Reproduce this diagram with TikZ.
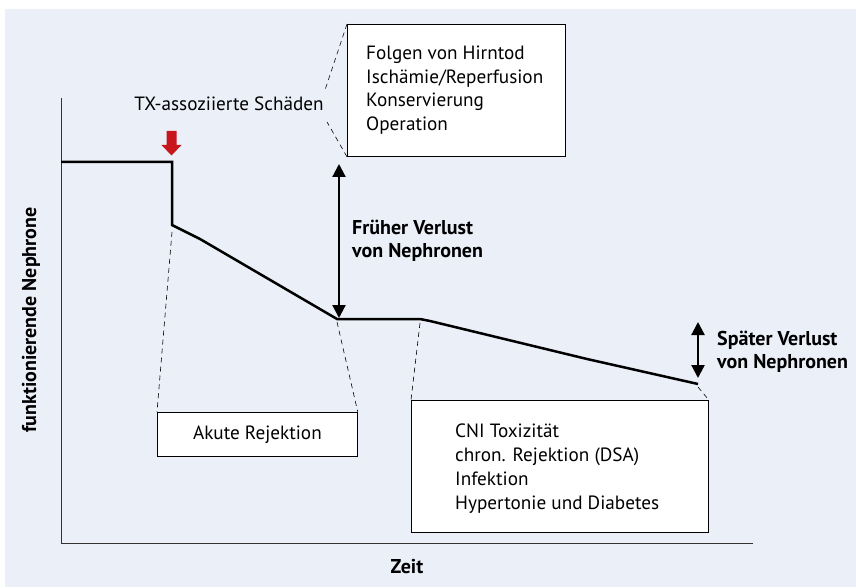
\documentclass[tikz,border=0pt]{standalone}
\usepackage{fontspec}
\setmainfont{PT Sans}
\usetikzlibrary{arrows.meta}
\definecolor{bgc}{HTML}{EBEFF8}
\definecolor{redc}{HTML}{C8161D}
\begin{document}
\begin{tikzpicture}[x=1pt,y=-1pt,
  txt/.style={font=\fontsize{19.2}{23.5}\selectfont, inner sep=0pt},
  btxt/.style={font=\fontsize{20}{23}\selectfont\bfseries, inner sep=0pt},
  infobox/.style={draw=black, fill=white, line width=0.8pt},
  curve/.style={line width=2.5pt, line join=miter},
  axis/.style={line width=1pt, draw=black!80},
  guide/.style={dash pattern=on 5pt off 4pt, line width=0.6pt},
  dbl/.style={{Triangle[length=13pt,width=13pt]}-{Triangle[length=13pt,width=13pt]}, line width=2.2pt}]
\useasboundingbox (0,0) rectangle (856,588);
\fill[bgc] (5,9) rectangle (856,587);
% axes
\draw[axis] (61,98) -- (61,543) -- (753,543);
\node[btxt, rotate=90] (ylab) at (31,320) {funktionierende Nephrone};
\node[btxt] (xlab) at (407,567) {Zeit};
% curve
\coordinate (c0) at (61,162);
\coordinate (c1) at (172,162);
\coordinate (c2) at (172,225);
\coordinate (c3) at (200,239);
\coordinate (c4) at (337,319);
\coordinate (c5) at (420,319);
\coordinate (c6) at (430,321);
\coordinate (c7) at (587,359);
\coordinate (c8) at (698,384);
\draw[curve] (c0) -- (c1) -- (c2) -- (c3) -- (c4) -- (c5) -- (c6) -- (c7) -- (c8);
% red arrow
\fill[redc] (166.5,131) -- (176.5,131) -- (176.5,145) -- (181.5,145) -- (171.5,155.5) -- (161.5,145) -- (166.5,145) -- cycle;
\node[txt, anchor=base] (tx) at (229,111) {TX-assoziierte Schäden};
% top box
\node[infobox, minimum width=218pt, minimum height=132pt, anchor=north west] (box1) at (347,24) {};
\node[txt, anchor=base west] (b1a) at (366,60) {Folgen von Hirntod};
\node[txt, anchor=base west] (b1b) at (366,83.5) {Ischämie/Reperfusion};
\node[txt, anchor=base west] (b1c) at (366,107) {Konservierung};
\node[txt, anchor=base west] (b1d) at (366,130.5) {Operation};
\coordinate (tx1) at (325,90);
\coordinate (tx2) at (327,122);
\draw[guide] (box1.north west) -- (tx1);
\draw[guide] (box1.south west) -- (tx2);
% early loss
\coordinate (e1) at (339,164);
\coordinate (e2) at (339,318);
\draw[dbl] (e1) -- (e2);
\node[btxt, anchor=base west] (early1) at (352,234) {Früher Verlust};
\node[btxt, anchor=base west] (early2) at (352,257) {von Nephronen};
% akute box
\node[infobox, minimum width=200pt, minimum height=44pt, anchor=north west] (box2) at (157,412) {};
\node[txt] (box2t) at (box2.center) {Akute Rejektion};
\coordinate (d1) at (172,232);
\coordinate (d2) at (337,322);
\draw[guide] (d1) -- (box2.north west);
\draw[guide] (d2) -- (box2.north east);
% CNI box
\node[infobox, minimum width=297pt, minimum height=132pt, anchor=north west] (box3) at (411,400) {};
\node[txt, anchor=base west] (b3a) at (455,437) {CNI Toxizität};
\node[txt, anchor=base west] (b3b) at (455,461) {chron. Rejektion (DSA)};
\node[txt, anchor=base west] (b3c) at (455,485) {Infektion};
\node[txt, anchor=base west] (b3d) at (455,509) {Hypertonie und Diabetes};
\coordinate (d3) at (420,323);
\coordinate (d4) at (698,387);
\draw[guide] (d3) -- (box3.north west);
\draw[guide] (d4) -- (box3.north east);
% late loss
\coordinate (l1) at (698,322);
\coordinate (l2) at (698,378);
\draw[dbl] (l1) -- (l2);
\node[btxt, anchor=base west] (late1) at (717,345) {Später Verlust};
\node[btxt, anchor=base west] (late2) at (717,368) {von Nephronen};
\end{tikzpicture}
\end{document}
